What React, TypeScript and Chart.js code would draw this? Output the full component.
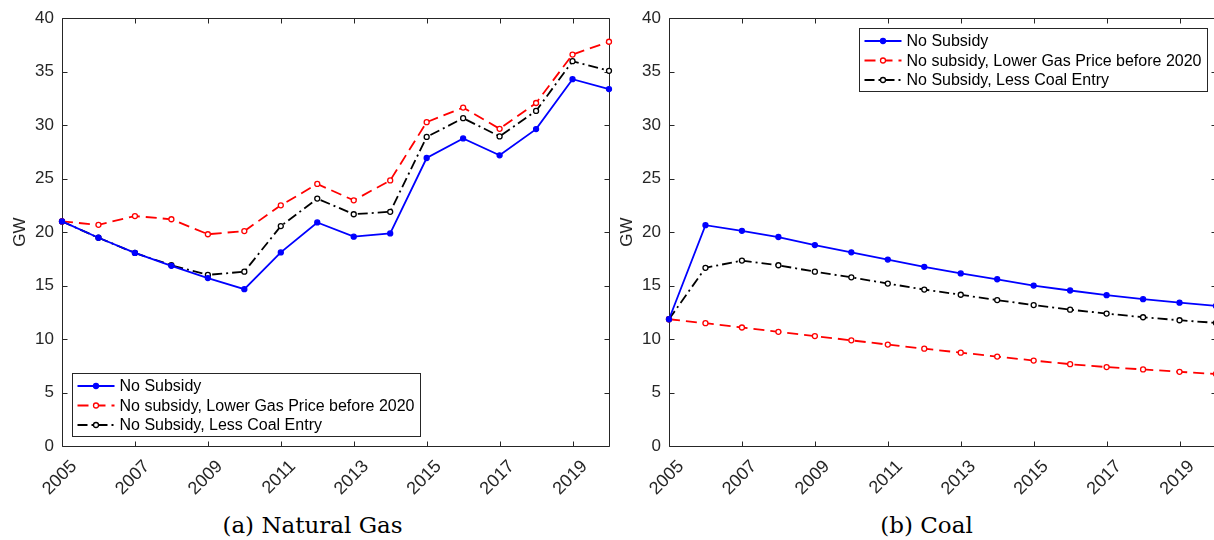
import { useEffect, useRef } from 'react';
import { Chart, registerables } from 'chart.js';

Chart.register(...registerables);

// ---------- data ----------
const years = [2005, 2006, 2007, 2008, 2009, 2010, 2011, 2012, 2013, 2014, 2015, 2016, 2017, 2018, 2019, 2020];
const xTickYears = [2005, 2007, 2009, 2011, 2013, 2015, 2017, 2019];
const yTicks = [0, 5, 10, 15, 20, 25, 30, 35, 40];

const seriesNames = [
  'No Subsidy',
  'No subsidy, Lower Gas Price before 2020',
  'No Subsidy, Less Coal Entry',
];

const gasNoSubsidy = [21.0, 19.47, 18.05, 16.85, 15.7, 14.66, 18.1, 20.9, 19.57, 19.88, 26.93, 28.76, 27.18, 29.63, 34.3, 33.37];
const gasLowerGasPrice = [21.0, 20.68, 21.5, 21.2, 19.8, 20.1, 22.5, 24.5, 22.97, 24.83, 30.28, 31.64, 29.66, 32.07, 36.6, 37.8];
const gasLessCoalEntry = [21.0, 19.47, 18.05, 16.9, 16.0, 16.3, 20.56, 23.13, 21.67, 21.9, 28.9, 30.65, 28.95, 31.33, 35.98, 35.08];

const coalNoSubsidy = [11.85, 20.65, 20.12, 19.54, 18.79, 18.11, 17.43, 16.75, 16.14, 15.59, 15.0, 14.54, 14.1, 13.73, 13.4, 13.1];
const coalLowerGasPrice = [11.85, 11.48, 11.08, 10.68, 10.28, 9.88, 9.48, 9.1, 8.73, 8.36, 7.99, 7.65, 7.38, 7.16, 6.94, 6.73];
const coalLessCoalEntry = [11.85, 16.66, 17.34, 16.9, 16.3, 15.77, 15.19, 14.63, 14.14, 13.64, 13.18, 12.75, 12.38, 12.04, 11.76, 11.51];

const captions = ['(a) Natural Gas', '(b) Coal'];

// ---------- styles ----------
const AXIS_COLOR = '#262626';
const FONT = '"Liberation Sans", Arial, Helvetica, sans-serif';
const TICK_LEN = 5;

Chart.defaults.font.family = FONT;
Chart.defaults.font.size = 17;

type SeriesStyle = { color: string; dash: number[]; fill: string };
const styles: SeriesStyle[] = [
  { color: '#0000ff', dash: [], fill: '#0000ff' },
  { color: '#ff0000', dash: [11, 6], fill: '#ffffff' },
  { color: '#000000', dash: [10, 4, 2, 4], fill: '#ffffff' },
];

const axesBoxPlugin = {
  id: 'axesBox',
  beforeDatasetsDraw(chart: any) {
    const { ctx, chartArea: a } = chart;
    const xs = chart.scales.x;
    const ys = chart.scales.y;
    const L = Math.round(a.left) + 0.5;
    const R = Math.round(a.right) + 0.5;
    const T = Math.round(a.top) + 0.5;
    const B = Math.round(a.bottom) + 0.5;
    ctx.save();
    ctx.strokeStyle = AXIS_COLOR;
    ctx.lineWidth = 1;
    ctx.beginPath();
    ctx.rect(L, T, R - L, B - T);
    for (const v of xTickYears) {
      const px = Math.round(xs.getPixelForValue(v)) + 0.5;
      ctx.moveTo(px, B);
      ctx.lineTo(px, B - TICK_LEN);
      ctx.moveTo(px, T);
      ctx.lineTo(px, T + TICK_LEN);
    }
    for (const v of yTicks) {
      const py = Math.round(ys.getPixelForValue(v)) + 0.5;
      ctx.moveTo(L, py);
      ctx.lineTo(L + TICK_LEN, py);
      ctx.moveTo(R, py);
      ctx.lineTo(R - TICK_LEN, py);
    }
    ctx.stroke();
    ctx.restore();
  },
};

const legendPlugin = {
  id: 'matlabLegend',
  afterDraw(chart: any, _args: any, opts: any) {
    const { ctx, chartArea: a } = chart;
    const w = 348;
    const h = 63;
    let left: number;
    let top: number;
    if (opts.corner === 'bottomLeft') {
      left = a.left + 10;
      top = a.bottom - 10 - h;
    } else {
      left = a.right - 9 - w;
      top = a.top + 10;
    }
    left = Math.round(left) + 0.5;
    top = Math.round(top) + 0.5;
    ctx.save();
    ctx.fillStyle = '#ffffff';
    ctx.fillRect(left, top, w, h);
    ctx.strokeStyle = AXIS_COLOR;
    ctx.lineWidth = 1;
    ctx.strokeRect(left, top, w, h);
    const rows = [12.5, 32, 51.5];
    const ds = chart.data.datasets;
    ds.forEach((d: any, i: number) => {
      const cy = top + rows[i];
      ctx.strokeStyle = d.borderColor;
      ctx.lineWidth = d.borderWidth;
      ctx.setLineDash(d.borderDash || []);
      ctx.beginPath();
      ctx.moveTo(left + 5, cy);
      ctx.lineTo(left + 42, cy);
      ctx.stroke();
      ctx.setLineDash([]);
      ctx.beginPath();
      ctx.arc(left + 23.5, cy, d.pointRadius, 0, Math.PI * 2);
      ctx.fillStyle = d.pointBackgroundColor;
      ctx.fill();
      ctx.lineWidth = d.pointBorderWidth;
      ctx.strokeStyle = d.pointBorderColor;
      ctx.stroke();
      ctx.fillStyle = '#000000';
      ctx.font = `16px ${FONT}`;
      ctx.textBaseline = 'middle';
      ctx.textAlign = 'left';
      ctx.fillText(d.label, left + 47, cy + 1);
    });
    ctx.restore();
  },
};

function makeDatasets(values: number[][]) {
  return values.map((vals, i) => ({
    label: seriesNames[i],
    data: years.map((yr, k) => ({ x: yr, y: vals[k] })),
    borderColor: styles[i].color,
    borderWidth: 1.8,
    borderDash: styles[i].dash,
    pointRadius: 2.5,
    pointBorderWidth: 1.3,
    pointBorderColor: styles[i].color,
    pointBackgroundColor: styles[i].fill,
    pointHoverRadius: 2.5,
    tension: 0,
    clip: false as any,
  }));
}

function makeConfig(values: number[][], corner: string): any {
  const yTickFont = { family: FONT, size: 17 };
  const xTickFont = { family: FONT, size: 18 };
  return {
    type: 'line',
    data: { datasets: makeDatasets(values) },
    options: {
      animation: false,
      responsive: false,
      devicePixelRatio: 1,
      events: [],
      layout: { padding: { top: 15, right: 11, bottom: 0, left: 0 } },
      plugins: {
        legend: { display: false },
        tooltip: { enabled: false },
        matlabLegend: { corner },
      },
      scales: {
        x: {
          type: 'linear',
          min: 2005,
          max: 2020,
          afterBuildTicks: (s: any) => {
            s.ticks = xTickYears.map((v) => ({ value: v }));
          },
          afterFit: (s: any) => {
            s.height = 54;
          },
          grid: { display: false, drawTicks: false },
          border: { display: false },
          ticks: {
            autoSkip: false,
            minRotation: 45,
            maxRotation: 45,
            padding: 10,
            labelOffset: 12,
            color: AXIS_COLOR,
            font: xTickFont,
            callback: (v: any) => String(v),
          },
        },
        y: {
          min: 0,
          max: 40,
          afterBuildTicks: (s: any) => {
            s.ticks = yTicks.map((v) => ({ value: v }));
          },
          afterFit: (s: any) => {
            s.width = 62;
          },
          grid: { display: false, drawTicks: false },
          border: { display: false },
          ticks: {
            padding: 8,
            color: AXIS_COLOR,
            font: yTickFont,
          },
          title: {
            display: true,
            text: 'GW',
            color: AXIS_COLOR,
            font: { family: FONT, size: 17 },
            padding: { top: 10, bottom: 0 },
          },
        },
      },
    },
    plugins: [axesBoxPlugin, legendPlugin],
  };
}

function Panel({ values, corner, left }: { values: number[][]; corner: string; left: number }) {
  const ref = useRef<HTMLCanvasElement | null>(null);
  useEffect(() => {
    if (!ref.current) return;
    const chart = new Chart(ref.current, makeConfig(values, corner));
    return () => chart.destroy();
  }, []);
  return (
    <canvas
      ref={ref}
      width={620}
      height={500}
      style={{ position: 'absolute', left, top: 0, width: 620, height: 500 }}
    />
  );
}

export default function App() {
  const captionStyle = (center: number): any => ({
    position: 'absolute',
    left: center - 150,
    top: 510,
    width: 300,
    textAlign: 'center',
    fontFamily: '"DejaVu Serif", serif',
    fontSize: 23,
    lineHeight: '30px',
    color: '#000',
  });
  return (
    <div
      style={{
        position: 'absolute',
        left: 0,
        top: 0,
        width: 1214,
        height: 540,
        overflow: 'hidden',
        background: '#fff',
      }}
    >
      <Panel values={[gasNoSubsidy, gasLowerGasPrice, gasLessCoalEntry]} corner="bottomLeft" left={0} />
      <Panel values={[coalNoSubsidy, coalLowerGasPrice, coalLessCoalEntry]} corner="topRight" left={607} />
      <div style={captionStyle(312.5)}>{captions[0]}</div>
      <div style={captionStyle(926.5)}>{captions[1]}</div>
    </div>
  );
}
